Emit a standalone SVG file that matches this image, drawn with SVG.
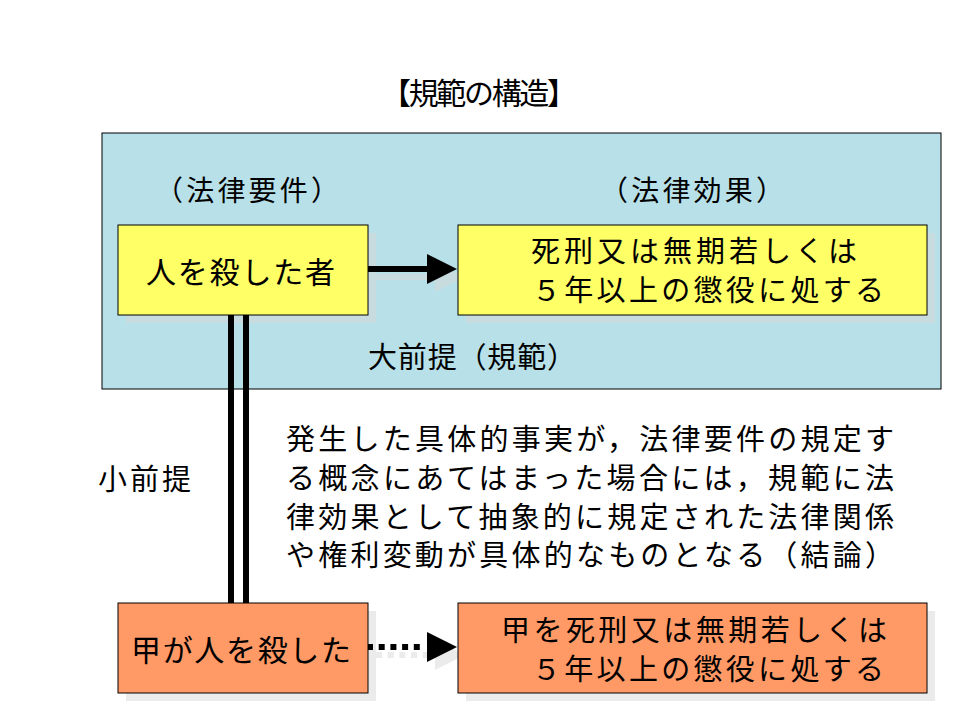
<svg xmlns="http://www.w3.org/2000/svg" width="960" height="720" viewBox="0 0 960 720">
<style>
text{font-family:"Noto Sans CJK JP","Noto Sans CJK SC",sans-serif;fill:#000;}
.box{stroke:#000;stroke-width:1;}
.yel{fill:#FFFF66;}
.ora{fill:#FF9966;}
.sh{fill:#d8d8d8;opacity:0.5;}
.bt{font-size:30px;}
.b2{font-size:29px;}
.pt{font-size:29px;}
</style>
<rect width="960" height="720" fill="#fff"/>
<g id="title"><text x="479" y="104" font-size="30" text-anchor="middle" textLength="196" lengthAdjust="spacing">【規範の構造】</text></g>
<g id="major-premise">
<rect x="102" y="133" width="839" height="256" fill="#B8E0E8" class="box"/>
<text x="368" y="368" class="pt" textLength="208" lengthAdjust="spacing">大前提（規範）</text>
</g>
<g id="label-requirement"><text x="247" y="201" font-size="28" text-anchor="middle" textLength="184" lengthAdjust="spacing">（法律要件）</text></g>
<g id="label-effect"><text x="692" y="201" font-size="28" text-anchor="middle" textLength="184" lengthAdjust="spacing">（法律効果）</text></g>
<g id="shadows">
<rect x="126" y="233" width="250" height="90" class="sh"/>
<rect x="466" y="233" width="469" height="90" class="sh"/>
<rect x="376" y="274" width="60" height="6" class="sh"/>
<polygon points="435,262 465,277 435,292" class="sh"/>
<rect x="126" y="611" width="250" height="90" class="sh"/>
<rect x="466" y="611" width="469" height="90" class="sh"/>
<line x1="376" y1="655" x2="435" y2="655" stroke="#d8d8d8" stroke-opacity="0.5" stroke-width="6" stroke-dasharray="6 5.7"/>
<polygon points="435,640 465,655 435,670" class="sh"/>
</g>
<g id="connectors">
<line x1="368" y1="269" x2="428" y2="269" stroke="#000" stroke-width="6"/>
<polygon points="427,254 457,269 427,284" fill="#000"/>
<rect x="228" y="315" width="6" height="288" fill="#000"/>
<rect x="243" y="315" width="6" height="288" fill="#000"/>
<line x1="367" y1="647" x2="424" y2="647" stroke="#000" stroke-width="6" stroke-dasharray="6 5.7"/>
<polygon points="427,632 457,647 427,662" fill="#000"/>
</g>
<g id="requirement">
<rect x="118" y="225" width="250" height="90" class="box yel"/>
<text x="146" y="283" class="bt" textLength="189" lengthAdjust="spacing">人を殺した者</text>
</g>
<g id="effect">
<rect x="458" y="225" width="469" height="90" class="box yel"/>
<text class="b2"><tspan x="531" y="262" textLength="326" lengthAdjust="spacing">死刑又は無期若しくは</tspan><tspan x="532" y="301" textLength="352" lengthAdjust="spacing">５年以上の懲役に処する</tspan></text>
</g>
<g id="minor-premise-label"><text x="98" y="490" font-size="29" textLength="93" lengthAdjust="spacing">小前提</text></g>
<g id="explanation">
<text class="pt"><tspan x="286" y="450" textLength="608" lengthAdjust="spacing">発生した具体的事実が，法律要件の規定す</tspan><tspan x="286" y="489" textLength="608" lengthAdjust="spacing">る概念にあてはまった場合には，規範に法</tspan><tspan x="286" y="528" textLength="608" lengthAdjust="spacing">律効果として抽象的に規定された法律関係</tspan><tspan x="286" y="566" textLength="608" lengthAdjust="spacing">や権利変動が具体的なものとなる（結論）</tspan></text>
</g>
<g id="fact">
<rect x="118" y="603" width="250" height="90" class="box ora"/>
<text x="131" y="661" class="bt" textLength="220" lengthAdjust="spacing">甲が人を殺した</text>
</g>
<g id="conclusion">
<rect x="458" y="603" width="469" height="90" class="box ora"/>
<text class="b2"><tspan x="501" y="641" textLength="386" lengthAdjust="spacing">甲を死刑又は無期若しくは</tspan><tspan x="532" y="680" textLength="352" lengthAdjust="spacing">５年以上の懲役に処する</tspan></text>
</g>
</svg>
